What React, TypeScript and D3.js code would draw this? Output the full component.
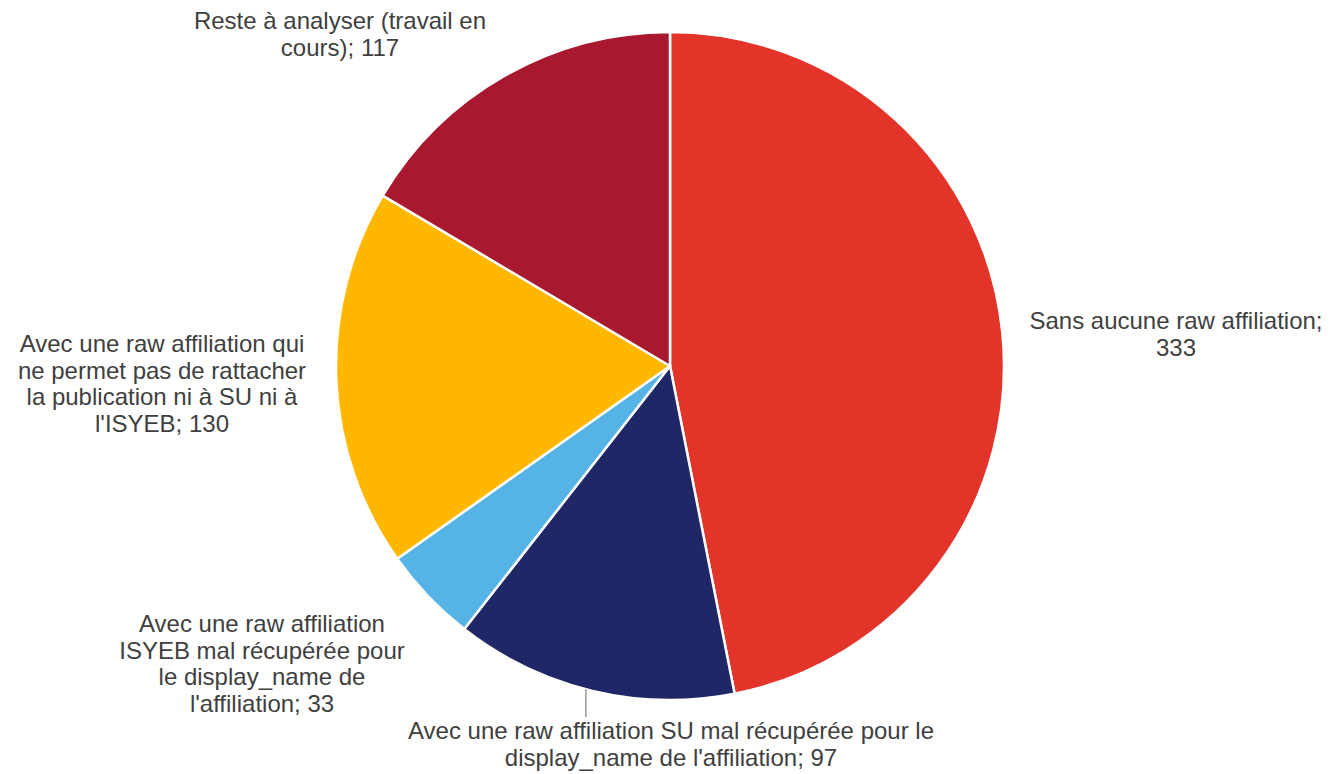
import React from "react";
import * as d3 from "d3";

const categories = [
  "Sans aucune raw affiliation",
  "Avec une raw affiliation SU mal récupérée pour le display_name de l'affiliation",
  "Avec une raw affiliation ISYEB mal récupérée pour le display_name de l'affiliation",
  "Avec une raw affiliation qui ne permet pas de rattacher la publication ni à SU ni à l'ISYEB",
  "Reste à analyser (travail en cours)",
];
const values = [333, 97, 33, 130, 117];
const colors = ["#E3342A", "#1F2766", "#55B4E5", "#FFB700", "#A8182F"];
const labelLines = [
  ["Sans aucune raw affiliation;", "333"],
  ["Avec une raw affiliation SU mal récupérée pour le", "display_name de l'affiliation; 97"],
  ["Avec une raw affiliation", "ISYEB mal récupérée pour", "le display_name de", "l'affiliation; 33"],
  ["Avec une raw affiliation qui", "ne permet pas de rattacher", "la publication ni à SU ni à", "l'ISYEB; 130"],
  ["Reste à analyser (travail en", "cours); 117"],
];
// label centre (x) and first baseline (y) in page pixels
const labelPos = [
  [1176, 329],
  [671, 739],
  [262, 632],
  [162, 352],
  [340, 29],
];

const W = 1334;
const H = 774;
const cx = 670;
const cy = 366;
const R = 334;
const LH = 26.5;

export default function App() {
  const pie = d3.pie<number>().sort(null).value((d) => d).startAngle(0).endAngle(2 * Math.PI);
  const arcs = pie(values);
  const arc = d3.arc<d3.PieArcDatum<number>>().innerRadius(0).outerRadius(R);
  const su = arcs[1];
  const mid = (su.startAngle + su.endAngle) / 2 + 0.02;
  const lx = cx + R * Math.sin(mid);
  const ly = cy - R * Math.cos(mid);
  return (
    <svg width={W} height={H} style={{ position: "absolute", left: 0, top: 0, background: "#fff" }}>
      <g transform={`translate(${cx},${cy})`}>
        {arcs.map((a, i) => (
          <path key={categories[i]} d={arc(a) || ""} fill={colors[i]} stroke="#fff" strokeWidth={2.5} strokeLinejoin="round" />
        ))}
      </g>
      <line x1={lx} y1={ly} x2={lx} y2={labelPos[1][1] - 22} stroke="#7f7f7f" strokeWidth={1.2} />
      {labelLines.map((lines, i) => (
        <text
          key={i}
          x={labelPos[i][0]}
          y={labelPos[i][1]}
          textAnchor="middle"
          fontFamily="Liberation Sans, Arial, sans-serif"
          fontSize={24}
          fill="#404040"
        >
          {lines.map((t, j) => (
            <tspan key={j} x={labelPos[i][0]} dy={j === 0 ? 0 : LH}>
              {t}
            </tspan>
          ))}
        </text>
      ))}
    </svg>
  );
}
